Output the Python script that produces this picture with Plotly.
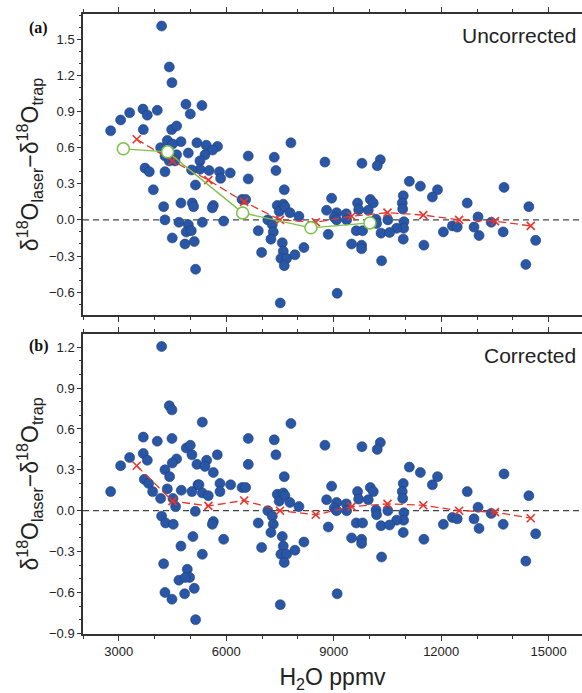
import plotly.graph_objects as go

# ---------------- data ----------------
# Low-humidity samples (differ between panels)
x_low_a = [2772, 3051, 3302, 3674, 3795, 4074, 3684, 3731, 3851, 3963,
           4195, 4409, 4483, 4874, 5320, 4995,
           4475, 4614, 4354, 4735, 5180, 5440, 5755, 5618, 4168, 4500, 4940, 5405,
           4614, 4289, 4409, 4568, 5265, 5265, 5520, 5810, 5842, 6110, 4289, 5033, 5140,
           4251, 4734, 5050, 5088, 4288, 4678, 4939, 4883, 5023, 4492, 4846, 5106,
           5143, 5331, 5638, 5610, 5926]
y_low_a = [0.74, 0.83, 0.89, 0.92, 0.87, 0.91, 0.75, 0.43, 0.40, 0.25,
           1.61, 1.27, 1.14, 0.96, 0.95, 0.88,
           0.75, 0.78, 0.66, 0.65, 0.64, 0.62, 0.61, 0.58, 0.60, 0.63, 0.555, 0.54,
           0.54, 0.53, 0.49, 0.49, 0.49, 0.42, 0.41, 0.40, 0.345, 0.39, 0.40, 0.415, 0.29,
           0.11, 0.14, 0.14, 0.11, 0.00, -0.02, -0.04, -0.10, -0.09, -0.15, -0.20, -0.18,
           -0.41, -0.02, 0.12, 0.10, -0.01]

x_low_b = [2772, 3051, 3302, 3683, 3683, 3795, 4074, 3711, 3832, 3944,
           4195, 4409, 4483, 4883, 5331, 4995,
           4483, 4613, 4492, 5041, 5181, 4288, 4418, 4167, 4353, 4744, 5041, 4511,
           4585, 5209, 5134, 4195, 4306, 4520, 5069, 4734, 5331, 4251, 4911, 4976,
           4678, 4855, 5106, 4288, 4837, 4483, 5143,
           5749, 5452, 5405, 5638, 5238, 5331, 5498, 5824, 5824, 6121, 5638, 5610, 5926]
y_low_b = [0.14, 0.33, 0.39, 0.54, 0.42, 0.37, 0.51, 0.23, 0.20, 0.14,
           1.205, 0.77, 0.74, 0.46, 0.65, 0.48,
           0.53, 0.38, 0.35, 0.41, 0.34, 0.30, 0.25, 0.09, 0.16, 0.15, 0.14, 0.09,
           0.03, 0.19, -0.005, -0.04, -0.09, -0.10, -0.19, -0.26, -0.32, -0.39, -0.43, -0.49,
           -0.51, -0.49, -0.57, -0.60, -0.61, -0.65, -0.80,
           0.41, 0.37, 0.325, 0.28, 0.19, 0.13, 0.11, 0.20, 0.14, 0.19, -0.08, -0.10, -0.21]

# Higher-humidity samples (same in both panels)
x_high = [6440, 6540, 6614, 6614, 6893, 6986, 7160, 7284, 7312, 7246, 7339, 7386,
          7423, 7479, 7591, 7637, 7618, 7777, 7804, 8028, 7563, 7591, 7525, 7684,
          7618, 7916, 8167, 7507,
          8754, 9787, 10300, 10214, 11110, 11418, 11897, 11753, 8940, 10940, 10912,
          10925, 8800, 9080, 9350, 9665, 9695, 10020, 10103, 9963, 9015, 10180, 10195,
          10510, 10958, 10950, 10754, 8847, 9628, 9805, 10320, 10558, 10940, 9498,
          9777, 9777, 11516, 10335, 9095, 9079, 9360,
          12060, 12312, 12446, 12726, 12916, 13028, 13056, 13395, 13730, 13753,
          14446, 14637, 14362]
y_high = [0.17, 0.17, 0.53, 0.34, -0.09, -0.27, 0.00, -0.04, -0.10, -0.16, 0.52, 0.41,
          0.12, 0.07, 0.13, 0.11, 0.25, 0.06, 0.64, 0.03, -0.19, -0.26, -0.32, -0.32,
          -0.38, -0.29, -0.23, -0.69,
          0.48, 0.47, 0.50, 0.45, 0.32, 0.28, 0.25, 0.19, 0.18, 0.20, 0.14,
          0.09, 0.08, 0.06, 0.05, 0.14, 0.085, 0.17, 0.14, 0.08, 0.02, 0.005, -0.03,
          0.00, -0.015, -0.07, -0.07, -0.12, -0.09, -0.09, -0.11, -0.105, -0.16, -0.20,
          -0.21, -0.24, -0.21, -0.34, -0.61, 0.00, 0.00,
          -0.10, -0.05, -0.06, 0.14, -0.06, 0.025, -0.13, -0.02, -0.10, 0.27,
          0.11, -0.17, -0.37]

# Binned means (red crosses)
bin_x = [3500, 4500, 5500, 6500, 7500, 8500, 9500, 10500, 11500, 12500, 13500, 14500]
bin_a = [0.67, 0.49, 0.33, 0.15, 0.00, -0.02, 0.03, 0.06, 0.04, 0.00, -0.01, -0.05]
bin_b = [0.33, 0.07, 0.035, 0.075, 0.00, -0.03, 0.03, 0.05, 0.04, 0.00, -0.01, -0.055]

# Green calibration points (panel a)
cal_x = [3126, 4363, 6457, 8363, 10009]
cal_y = [0.59, 0.565, 0.058, -0.066, -0.025]

x_ticks = [3000, 6000, 9000, 12000, 15000]
x_tick_labels = ["3000", "6000", "9000", "12000", "15000"]
y_ticks_a = [-0.6, -0.3, 0.0, 0.3, 0.6, 0.9, 1.2, 1.5]
y_ticks_b = [-0.9, -0.6, -0.3, 0.0, 0.3, 0.6, 0.9, 1.2]

# ---------------- styles ----------------
BLUE = "#2a57a5"
RED = "#e8342c"
GREEN = "#7cc243"
AX = "#333333"
FONT = "Liberation Sans, Arial, Helvetica, sans-serif"

fig = go.Figure()

def scatter(x, y, xa, ya):
    fig.add_trace(go.Scatter(x=x, y=y, mode="markers", xaxis=xa, yaxis=ya,
                             marker=dict(size=10, color=BLUE,
                                         line=dict(width=0.6, color="#1d3f7d")),
                             showlegend=False, hoverinfo="skip"))

scatter(x_low_a + x_high, y_low_a + y_high, "x", "y")
scatter(x_low_b + x_high, y_low_b + y_high, "x2", "y2")

for ya, vals in (("y", bin_a), ("y2", bin_b)):
    fig.add_trace(go.Scatter(x=bin_x, y=vals, mode="lines+markers",
                             xaxis="x" if ya == "y" else "x2", yaxis=ya,
                             line=dict(color=RED, width=1.3, dash="8px,4px"),
                             marker=dict(symbol="x-thin", size=8,
                                         line=dict(width=1.6, color=RED), color=RED),
                             showlegend=False, hoverinfo="skip"))

fig.add_trace(go.Scatter(x=cal_x, y=cal_y, mode="lines+markers", xaxis="x", yaxis="y",
                         line=dict(color=GREEN, width=1.4),
                         marker=dict(symbol="circle", size=12, color="white",
                                     line=dict(width=1.5, color=GREEN)),
                         showlegend=False, hoverinfo="skip"))

xcommon = dict(range=[2000, 15930], tickvals=x_ticks, ticktext=x_tick_labels,
               ticks="outside", ticklen=5, automargin=False,
               tickwidth=1, tickcolor=AX, showline=True, linecolor=AX, linewidth=1.5,
               mirror="ticks", showgrid=False, zeroline=False,
               minor=dict(dtick=1000, tick0=0, ticks="outside", ticklen=3,
                          tickcolor=AX, tickwidth=1, showgrid=False),
               tickfont=dict(family=FONT, size=13, color="#222"))
ycommon = dict(ticks="outside", ticklen=4, tickwidth=1, tickcolor=AX, automargin=False,
               showline=True, linecolor=AX, linewidth=1.5, mirror=False,
               showgrid=False, zeroline=False, tickformat=".1f",
               minor=dict(dtick=0.1, tick0=0, ticks="outside", ticklen=2.5,
                          tickcolor=AX, tickwidth=1, showgrid=False),
               tickfont=dict(family=FONT, size=13, color="#222"))

ytitle = "δ<sup>18</sup>O<sub>laser</sub>−δ<sup>18</sup>O<sub>trap</sub>"

fig.update_layout(
    width=582, height=693,
    margin=dict(l=83, r=0, t=14, b=59),
    plot_bgcolor="white", paper_bgcolor="white",
    font=dict(family=FONT, color="#222"),
    xaxis=dict(**xcommon, anchor="y", showticklabels=False),
    yaxis=dict(**ycommon, domain=[0.5145, 1.0], range=[-0.79, 1.71], tickvals=y_ticks_a,
               title=dict(text=ytitle, font=dict(family=FONT, size=23, color="#222"),
                          standoff=4)),
    xaxis2=dict(**xcommon, anchor="y2",
                title=dict(text="H<sub>2</sub>O ppmv",
                           font=dict(family=FONT, size=23, color="#222"), standoff=13)),
    yaxis2=dict(**ycommon, domain=[0.0, 0.4839], range=[-0.905, 1.297], tickvals=y_ticks_b,
                title=dict(text=ytitle, font=dict(family=FONT, size=23, color="#222"),
                           standoff=4)),
    shapes=[
        dict(type="line", xref="x domain", yref="y", x0=0, x1=1, y0=0, y1=0,
             line=dict(color="#444", width=1.2, dash="6px,4px"), layer="below"),
        dict(type="line", xref="x2 domain", yref="y2", x0=0, x1=1, y0=0, y1=0,
             line=dict(color="#444", width=1.2, dash="6px,4px"), layer="below"),
    ],
    annotations=[
        dict(text="Uncorrected", xref="paper", yref="paper", x=0.992, y=1.0,
             xanchor="right", yanchor="top", yshift=-8, showarrow=False,
             font=dict(family=FONT, size=21, color="#222")),
        dict(text="Corrected", xref="paper", yref="paper", x=0.992, y=0.4839,
             xanchor="right", yanchor="top", yshift=-8, showarrow=False,
             font=dict(family=FONT, size=21, color="#222")),
        dict(text="<b>(a)</b>", xref="paper", yref="paper", x=-0.112, y=1.0,
             xanchor="left", yanchor="top", yshift=-3, showarrow=False,
             font=dict(family="Liberation Serif, Times New Roman, serif", size=16,
                       color="#111")),
        dict(text="<b>(b)</b>", xref="paper", yref="paper", x=-0.112, y=0.4839,
             xanchor="left", yanchor="top", yshift=-1, showarrow=False,
             font=dict(family="Liberation Serif, Times New Roman, serif", size=16,
                       color="#111")),
    ],
)

fig.write_html("out.html", config={"displayModeBar": False},
               post_script="document.body.style.margin='0';document.body.style.padding='0';")
